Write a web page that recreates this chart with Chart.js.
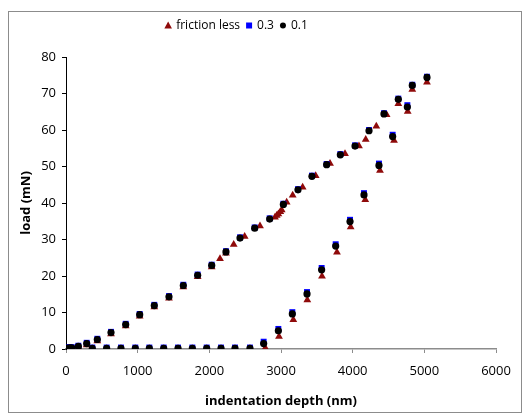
<!DOCTYPE html>
<html>
<head>
<meta charset="utf-8">
<script src="https://cdn.jsdelivr.net/npm/chart.js@4.4.1/dist/chart.umd.min.js"></script>
<style>
  html, body { margin: 0; padding: 0; background: #fff; }
</style>
</head>
<body>
<canvas id="chart" width="529" height="414"></canvas>
<script>
// series: friction less (loading then unloading)
const depthFrictionless = [0, 20, 50, 80, 172, 289, 437, 628, 833, 1028, 1232, 1437, 1637, 1837, 2033, 2149, 2232, 2340, 2493, 2707, 2916, 2940, 2963, 2990, 3010, 3079, 3163, 3302, 3484, 3684, 3893, 4088, 4182, 4330, 4474, 4637, 4832, 5037,
  4768, 4577, 4381, 4176, 3972, 3781, 3572, 3367, 3172, 2972, 2781, 2567, 2358, 2163, 1963, 1763, 1563, 1363, 1163, 967, 767, 567, 367];
const loadFrictionless = [0, 0, 0.1, 0.1, 0.4, 1.1, 2.2, 4.1, 6.3, 9.0, 11.5, 13.9, 17.0, 19.8, 22.5, 24.7, 26.2, 28.6, 30.8, 33.7, 36.1, 36.6, 37.0, 37.6, 38.1, 40.2, 42.1, 44.3, 47.5, 50.8, 53.5, 55.6, 57.4, 61.0, 64.2, 67.2, 71.1, 73.1,
  65.1, 57.1, 48.9, 40.9, 33.4, 26.5, 19.9, 13.4, 8.0, 3.4, 0.3, 0, 0, 0, 0, 0, 0, 0, 0, 0, 0, 0, 0];

// series: friction 0.3 and 0.1 share the same depths
const depthFriction = [0, 20, 50, 80, 172, 289, 437, 628, 833, 1028, 1232, 1437, 1637, 1837, 2033, 2232, 2428, 2633, 2842, 3033, 3237, 3432, 3637, 3828, 4033, 4228, 4437, 4637, 4832, 5037,
  4763, 4558, 4367, 4158, 3963, 3763, 3567, 3363, 3158, 2963, 2758, 2567, 2358, 2163, 1963, 1763, 1563, 1363, 1163, 967, 767, 567, 367];
const load03 = [0.3, 0.4, 0.5, 0.5, 0.9, 1.7, 2.8, 4.7, 6.9, 9.6, 12.1, 14.5, 17.6, 20.4, 23.1, 26.8, 30.6, 33.3, 35.8, 39.8, 43.8, 47.5, 50.7, 53.4, 55.8, 60.0, 64.6, 68.6, 72.4, 74.6,
  66.8, 58.7, 50.8, 42.7, 35.4, 28.7, 22.2, 15.6, 10.1, 5.5, 2.0, 0.4, 0.4, 0.4, 0.4, 0.4, 0.4, 0.4, 0.4, 0.4, 0.4, 0.4, 0.4];
const load01 = [0.1, 0.2, 0.3, 0.3, 0.7, 1.5, 2.6, 4.5, 6.7, 9.4, 11.9, 14.3, 17.4, 20.2, 22.9, 26.6, 30.4, 33.1, 35.6, 39.6, 43.6, 47.3, 50.5, 53.2, 55.6, 59.8, 64.4, 68.4, 72.2, 74.4,
  66.3, 58.2, 50.3, 42.2, 34.9, 28.2, 21.7, 15.1, 9.6, 5.0, 1.5, 0.2, 0.2, 0.2, 0.2, 0.2, 0.2, 0.2, 0.2, 0.2, 0.2, 0.2, 0.2];

const seriesLabels = ['friction less', '0.3', '0.1'];
const seriesColors = ['#8f0a0a', '#0000ff', '#000000'];
const seriesStyles = ['triangle', 'rect', 'circle'];
const seriesRadius = [4.5, 4.2, 3.6];

const FONT = '"Open Sans", "Liberation Sans", sans-serif';

function points(xs, ys) {
  return xs.map((x, i) => ({ x: x, y: ys[i] }));
}

// grey frame round the whole chart
const frame = {
  id: 'frame',
  beforeDraw(chart) {
    const c = chart.ctx;
    c.save();
    c.fillStyle = '#fff';
    c.fillRect(0, 0, chart.width, chart.height);
    c.strokeStyle = '#8c8c8c';
    c.lineWidth = 1;
    c.strokeRect(8.5, 11.5, 513, 401);
    c.restore();
  }
};

// legend row at the top, centred over the plot like the original
const keyRow = {
  id: 'keyRow',
  afterDraw(chart) {
    const c = chart.ctx;
    c.save();
    c.font = '12px ' + FONT;
    c.textBaseline = 'middle';
    c.fillStyle = '#000';
    const gapMarker = 8, gapItem = 9;
    const widths = seriesLabels.map(t => c.measureText(t).width);
    let total = 0;
    widths.forEach(w => total += gapMarker + w + gapItem);
    total -= gapItem;
    let x = 238 - total / 2;
    const y = 25.5;
    seriesLabels.forEach((t, i) => {
      c.fillStyle = seriesColors[i];
      c.beginPath();
      if (seriesStyles[i] === 'triangle') {
        c.moveTo(x, y - 4);
        c.lineTo(x + 3.8, y + 3);
        c.lineTo(x - 3.8, y + 3);
        c.closePath();
      } else if (seriesStyles[i] === 'rect') {
        c.rect(x - 3, y - 3, 6, 6);
      } else {
        c.arc(x, y, 3, 0, Math.PI * 2);
      }
      c.fill();
      c.fillStyle = '#000';
      c.fillText(t, x + gapMarker, y);
      x += gapMarker + widths[i] + gapItem;
    });
    c.restore();
  }
};

const datasets = [
  { label: seriesLabels[0], data: points(depthFrictionless, loadFrictionless), order: 3 },
  { label: seriesLabels[1], data: points(depthFriction, load03), order: 2 },
  { label: seriesLabels[2], data: points(depthFriction, load01), order: 1 }
].map((ds, i) => Object.assign(ds, {
  pointStyle: seriesStyles[i],
  pointRadius: seriesRadius[i],
  pointHoverRadius: seriesRadius[i],
  pointBackgroundColor: seriesColors[i],
  pointBorderColor: seriesColors[i],
  pointBorderWidth: 0,
  backgroundColor: seriesColors[i],
  borderColor: seriesColors[i],
  showLine: false
}));

new Chart(document.getElementById('chart'), {
  type: 'scatter',
  data: { datasets: datasets },
  options: {
    responsive: false,
    animation: false,
    layout: { padding: { left: 0, right: 33, top: 57, bottom: 0 } },
    plugins: {
      legend: { display: false },
      tooltip: { enabled: false }
    },
    scales: {
      x: {
        type: 'linear',
        min: 0,
        max: 6000,
        ticks: { stepSize: 1000, color: '#000', font: { family: FONT, size: 13 }, padding: 10, maxRotation: 0,
          callback: v => String(v) },
        grid: { drawOnChartArea: false, drawTicks: true, tickLength: 4, color: '#8c8c8c', lineWidth: 1 },
        border: { color: '#8c8c8c', width: 1.5 },
        title: { display: true, text: 'indentation depth (nm)', color: '#000', font: { family: FONT, size: 13, weight: 'bold' }, padding: { top: 0, bottom: 5 } },
        afterFit(scale) { scale.height = 65; }
      },
      y: {
        min: 0,
        max: 80,
        ticks: { stepSize: 10, color: '#000', font: { family: FONT, size: 13 }, padding: 6, callback: v => String(v) },
        grid: { drawOnChartArea: false, drawTicks: true, tickLength: 4, color: '#000', lineWidth: 1 },
        border: { color: '#000', width: 1 },
        title: { display: true, text: 'load (mN)', color: '#000', font: { family: FONT, size: 13, weight: 'bold' }, padding: { top: 18, bottom: 0 } },
        afterFit(scale) { scale.width = 66; }
      }
    }
  },
  plugins: [frame, keyRow]
});
</script>
</body>
</html>
